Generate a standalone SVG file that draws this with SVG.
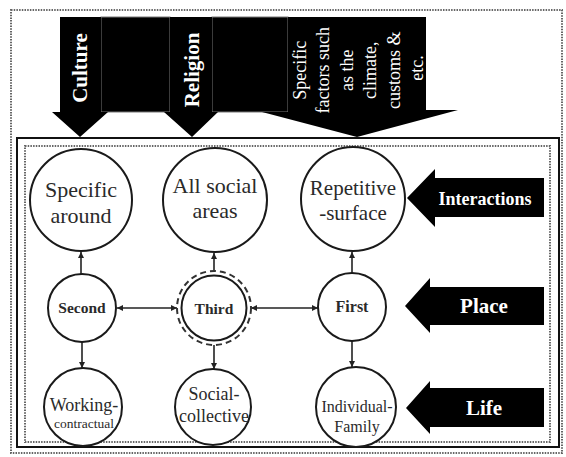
<svg xmlns="http://www.w3.org/2000/svg" width="566" height="457" viewBox="0 0 566 457">
<style>
.frame-dot{fill:none;stroke:#666;stroke-width:2;stroke-dasharray:1.5 1.2}
.frame-solid{fill:none;stroke:#111;stroke-width:2}
.blk{fill:#000}
.gap{fill:#000;stroke:#777;stroke-width:1}
.wt{fill:#fff;font-family:"Liberation Serif",serif}
.node{fill:#fff;stroke:#1a1a1a;stroke-width:2}
.ring{fill:none;stroke:#333;stroke-width:2;stroke-dasharray:6 4}
.t{fill:#2a2a2a;font-family:"Liberation Serif",serif;text-anchor:middle}
.conn{stroke:#222;stroke-width:1.6;fill:none}
</style>
<defs>
<marker id="ah" viewBox="0 0 6 6" refX="6" refY="3" markerWidth="6" markerHeight="6" markerUnits="userSpaceOnUse" orient="auto-start-reverse">
<path d="M0,0 L6,3 L0,6 z" fill="#222"/>
</marker>
</defs>
<rect width="566" height="457" fill="#fff"/>
<rect class="frame-dot" x="11" y="10" width="551" height="443"/>
<rect class="frame-solid" x="17" y="138" width="542" height="309"/>
<rect class="frame-dot" x="25" y="146" width="525" height="296"/>

<g id="top-arrows">
<rect class="gap" x="101" y="17" width="69" height="95"/>
<rect class="gap" x="212" y="17" width="76" height="95"/>
<polygon class="blk" points="60,17 101,17 101,112 108,112 80,137 52,112 60,112"/>
<polygon class="blk" points="170,17 212,17 212,112 218,112 192,137 164,112 170,112"/>
<polygon class="blk" points="288,17 426,17 426,110 458,110 357,137 262,112 288,112"/>
<text class="wt" transform="translate(87,68) rotate(-90)" text-anchor="middle" font-size="21" font-weight="bold">Culture</text>
<text class="wt" transform="translate(199,70) rotate(-90)" text-anchor="middle" font-size="21" font-weight="bold">Religion</text>
<text class="wt" transform="translate(306,68) rotate(-90)" text-anchor="middle" font-size="18">
<tspan x="0" y="0">Specific</tspan>
<tspan x="0" dy="23.4">factors such</tspan>
<tspan x="0" dy="23.4">as the</tspan>
<tspan x="0" dy="23.4">climate,</tspan>
<tspan x="0" dy="23.4">customs &amp;</tspan>
<tspan x="0" dy="23.4">etc.</tspan>
</text>
</g>

<g id="side-arrows">
<g id="arrow-interactions">
<polygon class="blk" points="544,178 544,217 435,217 435,227 407,198 435,169 435,178"/>
<text class="wt" x="485" y="205" text-anchor="middle" font-size="18" font-weight="bold">Interactions</text>
</g>
<g id="arrow-place">
<polygon class="blk" points="544,287 544,325 430,325 430,333 405,306 430,278 430,287"/>
<text class="wt" x="484" y="313" text-anchor="middle" font-size="21" font-weight="bold">Place</text>
</g>
<g id="arrow-life">
<polygon class="blk" points="544,388 544,427 430,427 430,434 406,408 430,381 430,388"/>
<text class="wt" x="484" y="415" text-anchor="middle" font-size="21" font-weight="bold">Life</text>
</g>
</g>

<g id="connectors">
<line class="conn" x1="81" y1="274" x2="81" y2="252" marker-end="url(#ah)"/>
<line class="conn" x1="214" y1="271" x2="214" y2="253" marker-end="url(#ah)"/>
<line class="conn" x1="352" y1="273" x2="352" y2="252" marker-end="url(#ah)"/>
<line class="conn" x1="117" y1="308" x2="177" y2="308" marker-start="url(#ah)" marker-end="url(#ah)"/>
<line class="conn" x1="251" y1="308" x2="318" y2="308" marker-start="url(#ah)" marker-end="url(#ah)"/>
<line class="conn" x1="82" y1="342" x2="82" y2="368" marker-end="url(#ah)"/>
<line class="conn" x1="214" y1="345" x2="214" y2="369" marker-end="url(#ah)"/>
<line class="conn" x1="352" y1="341" x2="352" y2="367" marker-end="url(#ah)"/>
</g>

<g id="node-specific-around">
<circle class="node" cx="81" cy="200" r="51"/>
<text class="t" font-size="22"><tspan x="81" y="197">Specific</tspan><tspan x="81" y="223">around</tspan></text>
</g>
<g id="node-all-social-areas">
<circle class="node" cx="215" cy="200" r="52"/>
<text class="t" font-size="22"><tspan x="215" y="193">All social</tspan><tspan x="215" y="218">areas</tspan></text>
</g>
<g id="node-repetitive-surface">
<circle class="node" cx="353" cy="199" r="52"/>
<text class="t" font-size="21"><tspan x="353" y="195">Repetitive</tspan><tspan x="353" y="220">-surface</tspan></text>
</g>
<g id="node-second">
<circle class="node" cx="82" cy="308" r="34"/>
<text class="t" x="82" y="313" font-size="15.5" font-weight="bold">Second</text>
</g>
<g id="node-third">
<circle class="ring" cx="214" cy="308" r="37"/>
<circle class="node" cx="214" cy="308" r="32.5"/>
<text class="t" x="214" y="314" font-size="15.5" font-weight="bold">Third</text>
</g>
<g id="node-first">
<circle class="node" cx="352" cy="307" r="34"/>
<text class="t" x="352" y="312" font-size="16" font-weight="bold">First</text>
</g>
<g id="node-working-contractual">
<circle class="node" cx="83" cy="407" r="39"/>
<text class="t"><tspan x="84" y="411" font-size="18">Working-</tspan><tspan x="84" y="428" font-size="13.5">contractual</tspan></text>
</g>
<g id="node-social-collective">
<circle class="node" cx="213" cy="407" r="38"/>
<text class="t" font-size="18"><tspan x="214" y="400">Social-</tspan><tspan x="214" y="422">collective</tspan></text>
</g>
<g id="node-individual-family">
<circle class="node" cx="356" cy="407" r="40"/>
<text class="t" font-size="16"><tspan x="357" y="412">Individual-</tspan><tspan x="357" y="432">Family</tspan></text>
</g>
</svg>
